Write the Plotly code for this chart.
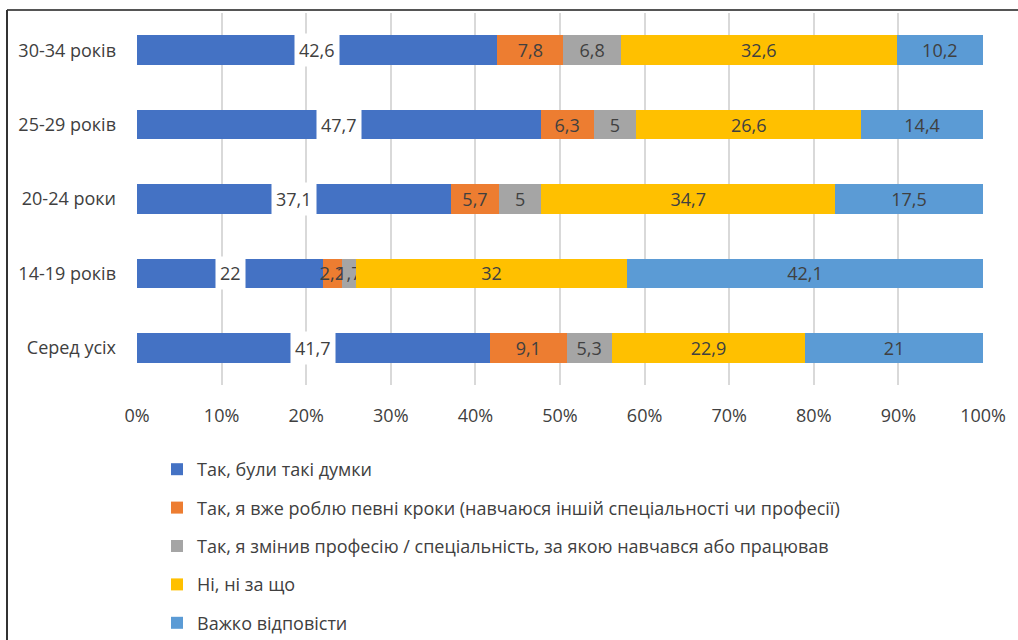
import plotly.graph_objects as go

categories = ["30-34 років", "25-29 років", "20-24 роки", "14-19 років", "Серед усіх"]
series_names = [
    "Так, були такі думки",
    "Так, я вже роблю певні кроки (навчаюся іншій спеціальності чи професії)",
    "Так, я змінив професію / спеціальність, за якою навчався або працював",
    "Ні, ні за що",
    "Важко відповісти",
]
s_thoughts = [42.6, 47.7, 37.1, 22, 41.7]
s_steps = [7.8, 6.3, 5.7, 2.2, 9.1]
s_changed = [6.8, 5, 5, 1.7, 5.3]
s_no = [32.6, 26.6, 34.7, 32, 22.9]
s_hard = [10.2, 14.4, 17.5, 42.1, 21]
colors = ["#4472C4", "#ED7D31", "#A5A5A5", "#FFC000", "#5B9BD5"]
tick_vals = [0, 10, 20, 30, 40, 50, 60, 70, 80, 90, 100]
tick_text = ["0%", "10%", "20%", "30%", "40%", "50%", "60%", "70%", "80%", "90%", "100%"]

all_series = [s_thoughts, s_steps, s_changed, s_no, s_hard]


def fmt(v):
    s = ("%g" % v)
    return s.replace(".", ",")


FONT = "Open Sans"
TXT = "#404040"
FS = 18

fig = go.Figure()
for i, (name, vals, col) in enumerate(zip(series_names, all_series, colors)):
    fig.add_trace(go.Bar(
        y=categories, x=vals, name=name, orientation="h",
        marker=dict(color=col, line=dict(width=0)),
        text=[fmt(v) for v in vals] if i > 0 else None,
        textposition="inside" if i > 0 else "none",
        insidetextanchor="middle", textangle=0,
        textfont=dict(family=FONT, size=FS, color=TXT),
        legendgroup=str(i), hoverinfo="x+name",
    ))

# labels with white background for the first series
for cat, v in zip(categories, s_thoughts):
    fig.add_annotation(x=v / 2, y=cat, xref="x", yref="y", text=fmt(v),
                       showarrow=False, bgcolor="white", borderpad=4,
                       font=dict(family=FONT, size=FS, color=TXT))

W, H = 1018, 640
L, R, T, B = 137, 35, 13, 255
pw, ph = W - L - R, H - T - B


def px_x(p):
    return (p - L) / pw


def px_y(p):
    return (H - B - p) / ph


# outer frame (left and top edges)
fig.add_shape(type="line", xref="paper", yref="paper", x0=px_x(7), x1=px_x(1030),
              y0=px_y(10), y1=px_y(10), line=dict(color="#555555", width=2))
fig.add_shape(type="line", xref="paper", yref="paper", x0=px_x(7), x1=px_x(7),
              y0=px_y(10), y1=px_y(660), line=dict(color="#333333", width=2))

fig.update_layout(
    barmode="stack", bargap=0.6,
    width=W, height=H,
    margin=dict(l=L, r=R, t=T, b=B, pad=0, autoexpand=False),
    paper_bgcolor="white", plot_bgcolor="white",
    font=dict(family=FONT, size=FS, color=TXT),
    uniformtext=dict(minsize=FS, mode="show"),
    xaxis=dict(range=[0, 100], tickvals=tick_vals, ticktext=tick_text,
               showgrid=True, gridcolor="#D9D9D9", gridwidth=1.5, zeroline=False,
               showline=False, ticks="", ticklabelstandoff=18,
               tickfont=dict(family=FONT, size=FS, color=TXT)),
    yaxis=dict(categoryorder="array", categoryarray=categories[::-1],
               showgrid=False, showline=False, ticks="", ticklabelstandoff=20,
               tickfont=dict(family=FONT, size=FS, color=TXT)),
    legend=dict(orientation="v", x=px_x(157), y=px_y(451), xanchor="left", yanchor="top",
                traceorder="grouped", tracegroupgap=12,
                font=dict(family=FONT, size=FS, color=TXT),
                itemwidth=30),
    showlegend=True,
)

fig.write_html("out.html", config={"displayModeBar": False},
               post_script="document.body.style.margin='0px';")
